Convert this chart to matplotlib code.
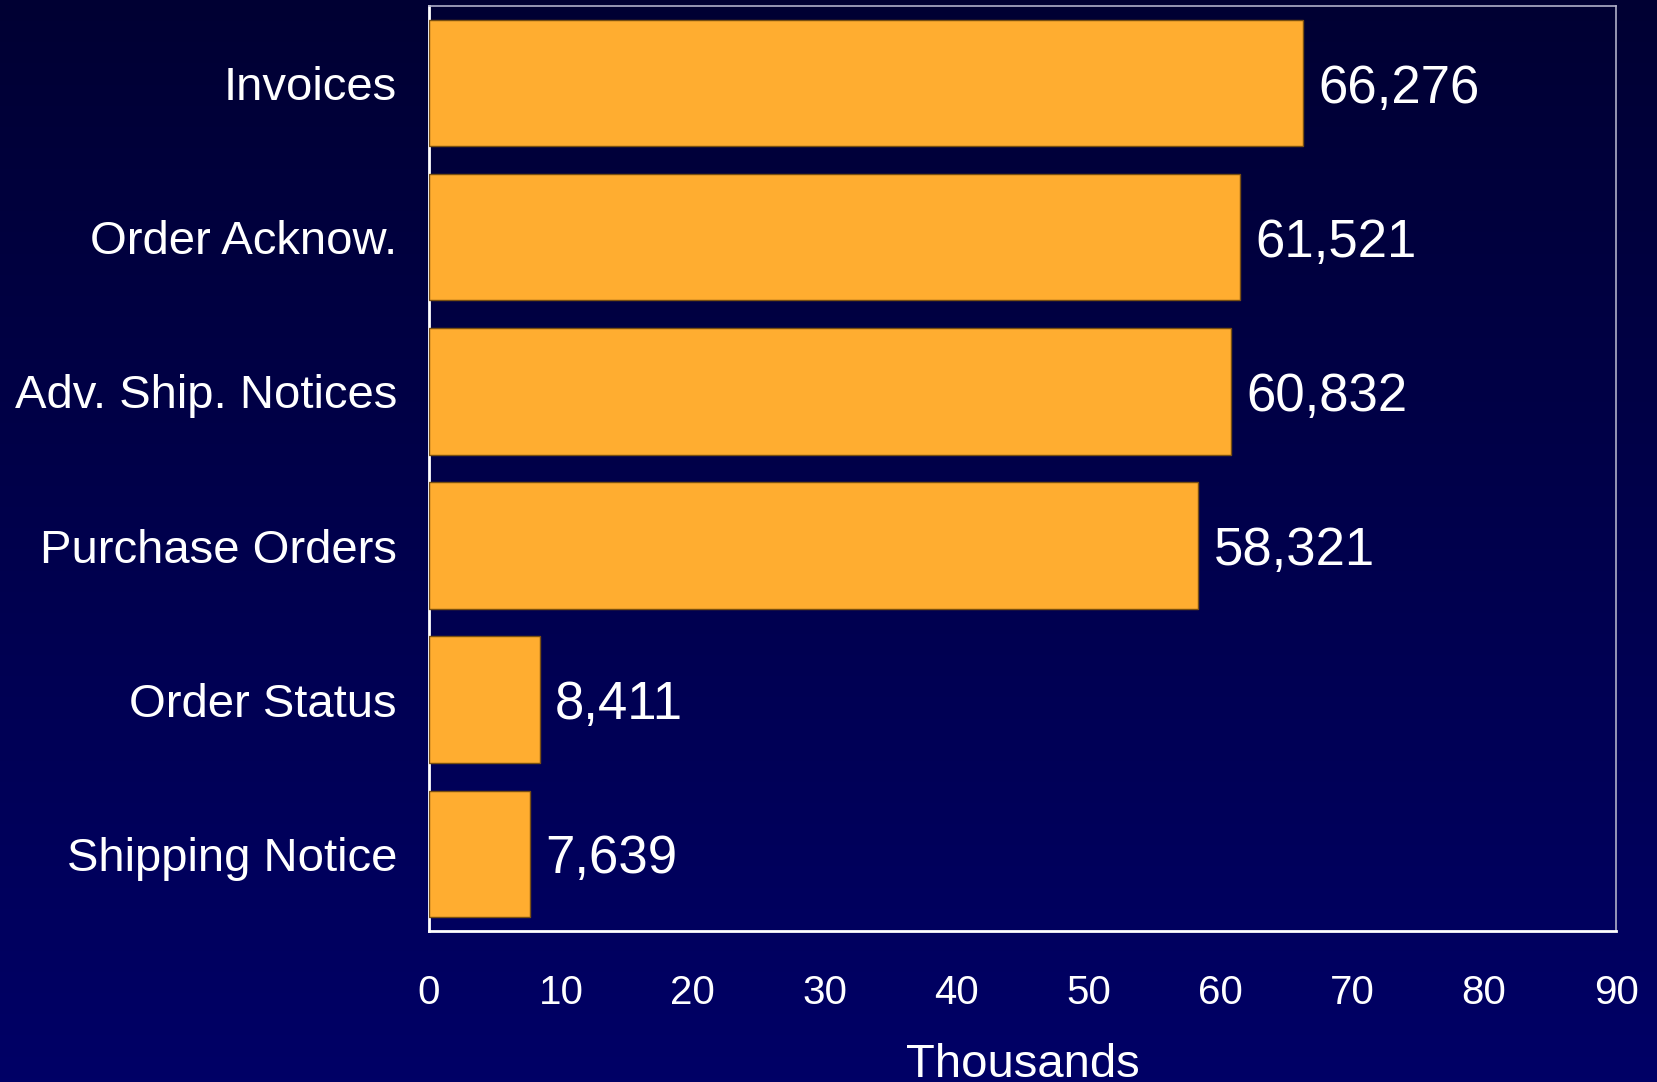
import numpy as np
import matplotlib
matplotlib.use("Agg")
import matplotlib.pyplot as plt
from matplotlib.colors import LinearSegmentedColormap

plt.rcParams['font.family'] = ['Liberation Sans', 'DejaVu Sans']

categories = ["Invoices", "Order Acknow.", "Adv. Ship. Notices", "Purchase Orders",
              "Order Status", "Shipping Notice"]
values = [66.276, 61.521, 60.832, 58.321, 8.411, 7.639]   # thousands
value_labels = ["66,276", "61,521", "60,832", "58,321", "8,411", "7,639"]
xticks = [0, 10, 20, 30, 40, 50, 60, 70, 80, 90]

fig = plt.figure(figsize=(16.57, 10.82), dpi=100)

# gradient background
bg = fig.add_axes([0, 0, 1, 1], zorder=-10)
grad = np.linspace(0, 1, 256).reshape(-1, 1)
cmap = LinearSegmentedColormap.from_list("bg", ["#000033", "#000066"])
bg.imshow(grad, aspect='auto', cmap=cmap, extent=[0, 1, 0, 1], origin='upper')
bg.axis('off')

ax = fig.add_axes([0.2589, 0.1396, 0.7164, 0.8549])
ax.set_facecolor('none')

y = np.arange(len(categories))
ax.barh(y, values, height=0.82, color='#FFAD30', edgecolor='#7a5010',
        linewidth=1, zorder=3)

for yi, v, lab in zip(y, values, value_labels):
    ax.annotate(lab, (v, yi), xytext=(11, 0), textcoords='offset points',
                va='center_baseline', ha='left', color='white', fontsize=38)

ax.set_ylim(len(categories) - 0.5, -0.5)
ax.set_xlim(0, 90)
ax.set_yticks(y)
ax.set_yticklabels(categories, fontsize=34, color='white')
ax.set_xticks(xticks)
ax.set_xticklabels([str(t) for t in xticks], fontsize=29, color='white')
ax.tick_params(axis='y', length=0, pad=23)
ax.tick_params(axis='x', length=0, pad=31)
ax.set_xlabel("Thousands", fontsize=34, color='white', labelpad=22)

for side in ['left', 'bottom']:
    ax.spines[side].set_color('white')
    ax.spines[side].set_linewidth(2)
for side in ['top', 'right']:
    ax.spines[side].set_color('#b0b0c8')
    ax.spines[side].set_linewidth(1.2)

fig.savefig("out.png", dpi=100)
